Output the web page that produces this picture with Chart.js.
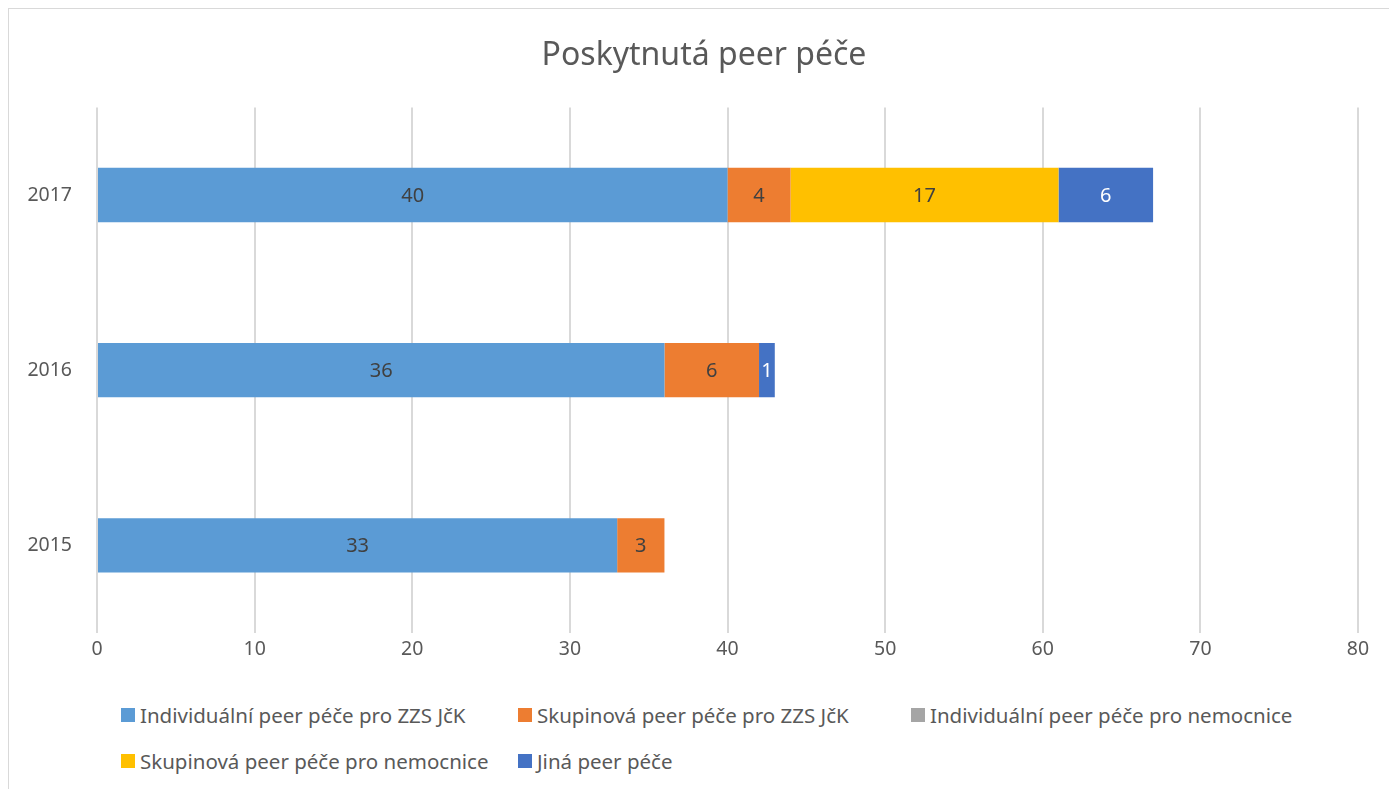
<!DOCTYPE html>
<html>
<head>
<meta charset="utf-8">
<script src="https://cdn.jsdelivr.net/npm/chart.js@4/dist/chart.umd.min.js"></script>
<style>
  html, body { margin: 0; background: #fff; font-family: 'Noto Sans', sans-serif; overflow: hidden; }
  #frame { position: absolute; left: 8px; top: 8px; width: 1392px; height: 800px; border: 1px solid #d9d9d9; box-sizing: border-box; }
  #wrap { position: absolute; left: 0; top: 0; width: 1390px; height: 664px; }
  #legend { position: absolute; left: 112px; top: 692px; width: 1200px; display: grid; grid-template-columns: 397px 393px 400px; row-gap: 18px; }
  .item { display: flex; align-items: center; font-size: 20.5px; color: #595959; white-space: nowrap; }
  .sw { width: 14px; height: 14px; margin-right: 5px; }
</style>
</head>
<body>
<div id="frame">
  <div id="wrap"><canvas id="c"></canvas></div>
  <div id="legend"></div>
</div>
<script>
const years = ['2015', '2016', '2017'];
const seriesNames = [
  'Individuální peer péče pro ZZS JčK',
  'Skupinová peer péče pro ZZS JčK',
  'Individuální peer péče pro nemocnice',
  'Skupinová peer péče pro nemocnice',
  'Jiná peer péče',
];
const indivZzs = [33, 36, 40];
const skupZzs = [3, 6, 4];
const indivNem = [0, 0, 0];
const skupNem = [0, 0, 17];
const jina = [0, 1, 6];
const colors = ['#5B9BD5', '#ED7D31', '#A5A5A5', '#FFC000', '#4472C4'];
const labelColors = ['#404040', '#404040', '#404040', '#404040', '#ffffff'];
const xTicks = [0, 10, 20, 30, 40, 50, 60, 70, 80];

const values = [indivZzs, skupZzs, indivNem, skupNem, jina];

// ---------- Legend (Excel-style column grid) ----------
const legend = document.getElementById('legend');
seriesNames.forEach((name, i) => {
  const item = document.createElement('div');
  item.className = 'item';
  item.innerHTML = `<span class="sw" style="background:${colors[i]}"></span>${name}`;
  legend.appendChild(item);
});

// Draws the value inside each segment, skipping zeros.
const barLabels = {
  id: 'barLabels',
  afterDatasetsDraw(chart) {
    const ctx = chart.ctx;
    ctx.save();
    ctx.font = '20px "Noto Sans"';
    ctx.textAlign = 'center';
    ctx.textBaseline = 'middle';
    chart.data.datasets.forEach((ds, di) => {
      const meta = chart.getDatasetMeta(di);
      meta.data.forEach((bar, i) => {
        const v = ds.data[i];
        if (!v) return;
        ctx.fillStyle = labelColors[di];
        ctx.fillText(String(v), (bar.x + bar.base) / 2, bar.y + 1);
      });
    });
    ctx.restore();
  },
};

new Chart(document.getElementById('c'), {
  type: 'bar',
  data: {
    labels: years,
    datasets: seriesNames.map((name, i) => ({
      label: name,
      data: values[i],
      backgroundColor: colors[i],
      borderWidth: 0,
      barPercentage: 0.31,
      categoryPercentage: 1,
    })),
  },
  options: {
    indexAxis: 'y',
    responsive: true,
    maintainAspectRatio: false,
    animation: false,
    layout: { padding: 0 },
    plugins: {
      legend: { display: false },
      tooltip: { enabled: false },
      title: {
        display: true,
        text: 'Poskytnutá peer péče',
        color: '#595959',
        font: { family: 'Noto Sans', size: 32, weight: 'normal' },
        padding: { top: 28, bottom: 32 },
      },
    },
    scales: {
      x: {
        stacked: true,
        min: 0,
        max: 80,
        afterBuildTicks: (axis) => { axis.ticks = xTicks.map((v) => ({ value: v })); },
        afterFit: (axis) => { axis.height = 40; },
        ticks: { color: '#595959', font: { family: 'Noto Sans', size: 19.5 }, padding: 5 },
        grid: { color: '#d9d9d9', lineWidth: 2, drawTicks: false },
        border: { display: false },
      },
      y: {
        stacked: true,
        reverse: true,
        afterFit: (axis) => { axis.width = 88; },
        ticks: { color: '#595959', font: { family: 'Noto Sans', size: 19.5 }, padding: 25 },
        grid: { display: false, drawTicks: false },
        border: { display: false },
      },
      // empty right-hand spacer so the plot stops short of the frame
      spacer: {
        type: 'linear',
        position: 'right',
        afterFit: (axis) => { axis.width = 41; },
        ticks: { display: false },
        grid: { display: false, drawTicks: false },
        border: { display: false },
      },
    },
  },
  plugins: [barLabels],
});
</script>
</body>
</html>
